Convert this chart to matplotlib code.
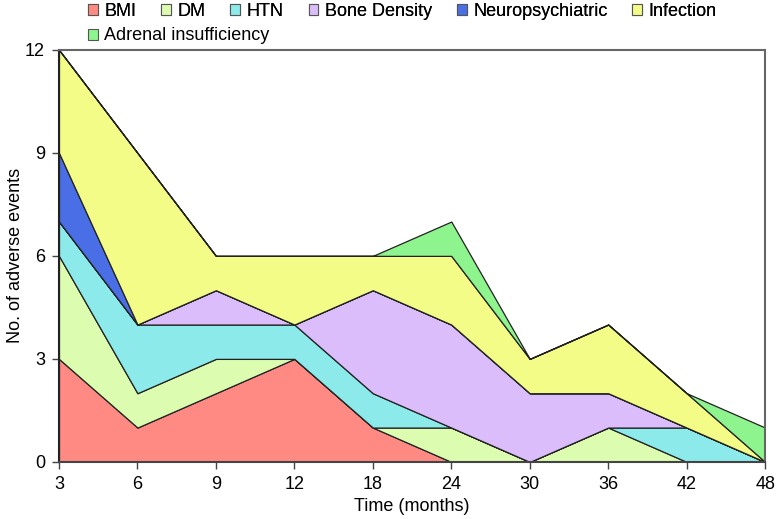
import numpy as np
import matplotlib.pyplot as plt
from matplotlib.patches import Patch

plt.rcParams['font.family'] = ['Liberation Sans', 'DejaVu Sans']

months = ['3', '6', '9', '12', '18', '24', '30', '36', '42', '48']
bmi = [3, 1, 2, 3, 1, 0, 0, 0, 0, 0]
dm = [3, 1, 1, 0, 0, 1, 0, 1, 0, 0]
htn = [1, 2, 1, 1, 1, 0, 0, 0, 1, 0]
bone = [0, 0, 1, 0, 3, 3, 2, 1, 0, 0]
neuro = [2, 0, 0, 0, 0, 0, 0, 0, 0, 0]
infection = [3, 5, 1, 2, 1, 2, 1, 2, 1, 0]
adrenal = [0, 0, 0, 0, 0, 1, 0, 0, 0, 1]

labels = ['BMI', 'DM', 'HTN', 'Bone Density', 'Neuropsychiatric', 'Infection',
          'Adrenal insufficiency']
colors = ['#ff8a84', '#dcfcb0', '#8ceaea', '#dbbdfb', '#4a6ee6', '#f4fc88', '#8ef48e']

fig = plt.figure(figsize=(7.76, 5.19), dpi=100)
ax = fig.add_axes([0.076, 0.110, 0.910, 0.794])

x = np.arange(len(months))
ax.stackplot(x, bmi, dm, htn, bone, neuro, infection, adrenal,
             colors=colors, edgecolor='#222222', linewidth=0.9)

ax.set_xlim(0, len(months) - 1)
ax.set_ylim(0, 12)
ax.set_xticks(x)
ax.set_xticklabels(months)
ax.set_yticks([0, 3, 6, 9, 12])
for s in ax.spines.values():
    s.set_color('#666666')
    s.set_linewidth(1.5)
ax.spines['left'].set_color('#222222')
ax.spines['bottom'].set_color('#444444')
ax.tick_params(direction='out', length=5, width=1, colors='#444444',
               labelcolor='black', labelsize=13, pad=5)
ax.set_xlabel('Time (months)', fontsize=13, labelpad=4)
ax.set_ylabel('No. of adverse events', fontsize=13, labelpad=1)

handles = [Patch(facecolor=c, edgecolor='#555555', linewidth=0.8) for c in colors]
leg_kw = dict(frameon=False, fontsize=13, handlelength=0.55, handleheight=0.55,
              handletextpad=0.35, columnspacing=1.38, borderpad=0, borderaxespad=0)
leg1 = fig.legend(handles[:6], labels[:6], ncol=6, loc='center left',
                  bbox_to_anchor=(88 / 776, 1 - 11 / 519), **leg_kw)
fig.legend(handles[6:], labels[6:], ncol=1, loc='center left',
           bbox_to_anchor=(88 / 776, 1 - 36 / 519), **leg_kw)
fig.add_artist(leg1)

fig.savefig('out.png', dpi=100)
